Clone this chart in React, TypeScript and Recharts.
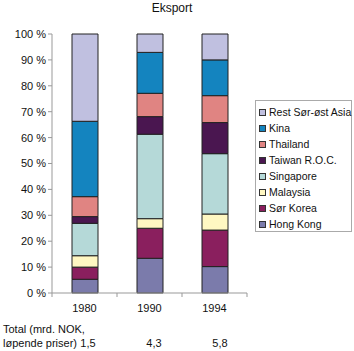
import React from "react";
import { BarChart, Bar, XAxis, YAxis } from "recharts";

const years = ["1980", "1990", "1994"];
const hongKong = [5.3, 13.4, 10.2];
const sorKorea = [4.7, 11.6, 14.1];
const malaysia = [4.4, 3.7, 6.2];
const singapore = [12.5, 32.6, 23.3];
const taiwan = [2.6, 6.8, 12.0];
const thailand = [7.7, 9.0, 10.4];
const kina = [29.1, 15.8, 13.8];
const rest = [33.7, 7.1, 10.0];
const totals = ["1,5", "4,3", "5,8"];
const yTicks = [0, 10, 20, 30, 40, 50, 60, 70, 80, 90, 100];

const series = [
  { key: "hk", name: "Hong Kong", values: hongKong, color: "#7b7bab" },
  { key: "sk", name: "Sør Korea", values: sorKorea, color: "#8a1f5e" },
  { key: "my", name: "Malaysia", values: malaysia, color: "#fff7c2" },
  { key: "sg", name: "Singapore", values: singapore, color: "#b5d9d8" },
  { key: "tw", name: "Taiwan R.O.C.", values: taiwan, color: "#4a1650" },
  { key: "th", name: "Thailand", values: thailand, color: "#e08482" },
  { key: "cn", name: "Kina", values: kina, color: "#1484bf" },
  { key: "rest", name: "Rest Sør-øst Asia", values: rest, color: "#c0c0e0" },
];

const data = years.map((y, i) => {
  const row: any = { year: y };
  series.forEach((s) => (row[s.key] = s.values[i]));
  return row;
});

const font = "'Liberation Sans', Arial, sans-serif";

const XTick = (props: any) => {
  const { x, y, payload, index } = props;
  const half = 32.5;
  return (
    <g>
      <line x1={x + half} y1={y - 8} x2={x + half} y2={y - 4} stroke="#999" />
      {index === 0 && <line x1={x - half} y1={y - 8} x2={x - half} y2={y - 4} stroke="#999" />}
      <text x={x} y={y + 11} textAnchor="middle" fontSize={11} fill="#111" fontFamily={font}>
        {payload.value}
      </text>
    </g>
  );
};

export default function App() {
  return (
    <div style={{ position: "absolute", left: 0, top: 0, width: 354, height: 351, background: "#fff", fontFamily: font }}>
      <div style={{ position: "absolute", left: 0, width: 344, top: 1, textAlign: "center", fontSize: 12, color: "#111" }}>
        Eksport
      </div>
      <BarChart
        width={354}
        height={351}
        data={data}
        margin={{ top: 34, right: 107, bottom: 38, left: 0 }}
        barSize={26}
      >
        <XAxis
          dataKey="year"
          height={20}
          tickLine={false}
          stroke="#999"
          tick={<XTick />}
          interval={0}
        />
        <YAxis
          width={52}
          domain={[0, 100]}
          ticks={yTicks}
          tickFormatter={(v) => `${v} %`}
          stroke="#999"
          tickSize={4}
          tick={{ fontSize: 11, fill: "#111", fontFamily: font }}
          interval={0}
        />
        {series.map((s) => (
          <Bar
            key={s.key}
            dataKey={s.key}
            name={s.name}
            stackId="a"
            fill={s.color}
            stroke="#222"
            strokeWidth={1}
            isAnimationActive={false}
          />
        ))}
      </BarChart>
      <div
        style={{
          position: "absolute",
          left: 255,
          top: 100,
          width: 92,
          height: 124,
          border: "1px solid #aaa",
          padding: "3px 0 3px 3px",
          fontSize: 10.5,
          color: "#111",
          whiteSpace: "nowrap",
        }}
      >
        {[...series].reverse().map((s) => (
          <div key={s.key} style={{ display: "flex", alignItems: "center", height: 16 }}>
            <span
              style={{
                width: 5,
                height: 5,
                background: s.color,
                border: "1px solid #333",
                marginRight: 3,
                display: "inline-block",
                flexShrink: 0,
              }}
            />
            {s.name}
          </div>
        ))}
      </div>
      <div style={{ position: "absolute", left: 3, top: 322, fontSize: 11, color: "#111", lineHeight: "14px" }}>
        Total (mrd. NOK,
        <br />
        løpende priser)
      </div>
      {totals.map((t, i) => (
        <div
          key={t}
          style={{ position: "absolute", left: [88, 154, 220][i] - 10, width: 20, textAlign: "center", top: 336, fontSize: 11, color: "#111", lineHeight: "14px" }}
        >
          {t}
        </div>
      ))}
    </div>
  );
}
